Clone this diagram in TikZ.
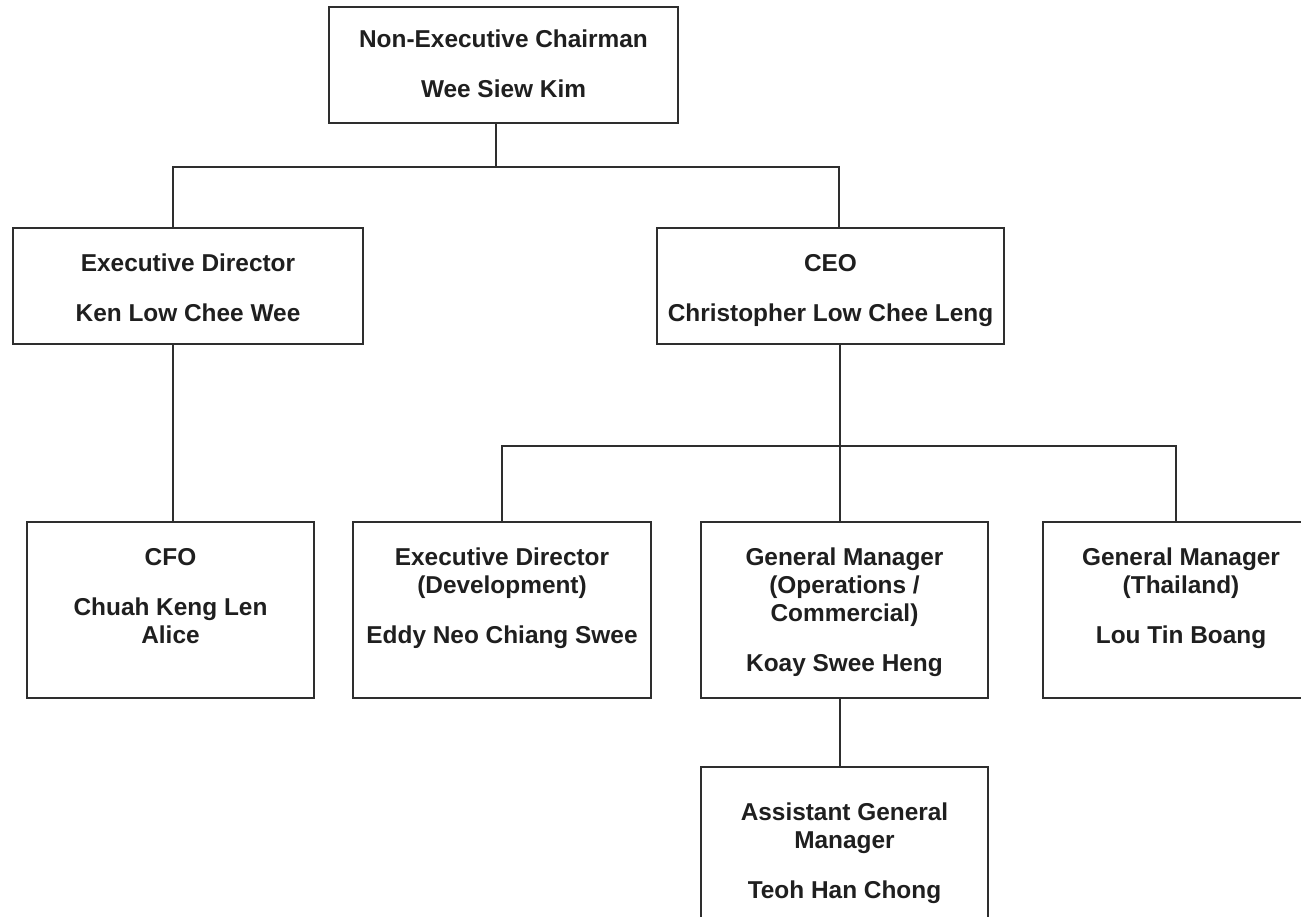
\documentclass[tikz,border=0pt]{standalone}
\usepackage{fontspec}
\setmainfont{Liberation Sans}
\usetikzlibrary{positioning}

\tikzset{
  post/.style 2 args={draw, minimum width=#1, minimum height=#2, inner sep=0pt},
  title/.style={align=center, anchor=north, inner sep=0pt, text=black!88,
    font=\bfseries\fontsize{24.4}{28}\selectfont},
}

\begin{document}
\begin{tikzpicture}[x=1pt, y=-1pt, line width=2pt, draw=black!82]
\useasboundingbox (0,0) rectangle (1301,917);

% boxes
\node[post={349}{116}] (chair) at (503.5,65) {};
\node[post={350}{116}] (ed) at (188,286) {};
\node[post={347}{116}] (ceo) at (830.5,286) {};
\node[post={287}{176}] (cfo) at (170.5,610) {};
\node[post={298}{176}] (dev) at (502,610) {};
\node[post={287}{176}] (gmo) at (844.5,610) {};
\node[post={276}{176}] (gmt) at (1181,610) {};
\node[post={287}{183}] (agm) at (844.5,858.5) {};

% texts
\node[title] (chair-t) at ([yshift=-23pt]chair.north) {Non-Executive Chairman\\[22pt]Wee Siew Kim};
\node[title] (ed-t) at ([yshift=-26pt]ed.north) {Executive Director\\[22pt]Ken Low Chee Wee};
\node[title] (ceo-t) at ([yshift=-26pt]ceo.north) {CEO\\[22pt]Christopher Low Chee Leng};
\node[title] (cfo-t) at ([yshift=-26pt]cfo.north) {CFO\\[22pt]Chuah Keng Len\\Alice};
\node[title] (dev-t) at ([yshift=-26pt]dev.north) {Executive Director\\(Development)\\[22pt]Eddy Neo Chiang Swee};
\node[title] (gmo-t) at ([yshift=-26pt]gmo.north) {General Manager\\(Operations /\\Commercial)\\[22pt]Koay Swee Heng};
\node[title] (gmt-t) at ([yshift=-26pt]gmt.north) {General Manager\\(Thailand)\\[22pt]Lou Tin Boang};
\node[title] (agm-t) at ([yshift=-36pt]agm.north) {Assistant General\\Manager\\[22pt]Teoh Han Chong};

% connectors (stems sit a little off the box centres)
\coordinate (bar1) at (0,167);
\coordinate (bar2) at (0,446);
\coordinate (chair-s) at ([xshift=-7.5pt]chair.south);
\coordinate (ed-n) at ([xshift=-15pt]ed.north);
\coordinate (ed-s) at ([xshift=-15pt]ed.south);
\coordinate (ceo-n) at ([xshift=8.5pt]ceo.north);
\coordinate (ceo-s) at ([xshift=9pt]ceo.south);
\coordinate (gmt-n) at ([xshift=-5pt]gmt.north);
\draw (chair-s) -- (chair-s |- bar1);
\draw (ed-n) -- (ed-n |- bar1) -- (ceo-n |- bar1) -- (ceo-n);
\draw (ed-s) -- (ed-s |- cfo.north);
\draw (ceo-s) -- (ceo-s |- bar2);
\draw (dev.north) -- (dev.north |- bar2) -- (gmt-n |- bar2) -- (gmt-n);
\draw (ceo-s |- bar2) -- (ceo-s |- gmo.north);
\draw (ceo-s |- gmo.south) -- (ceo-s |- agm.north);
\end{tikzpicture}
\end{document}
